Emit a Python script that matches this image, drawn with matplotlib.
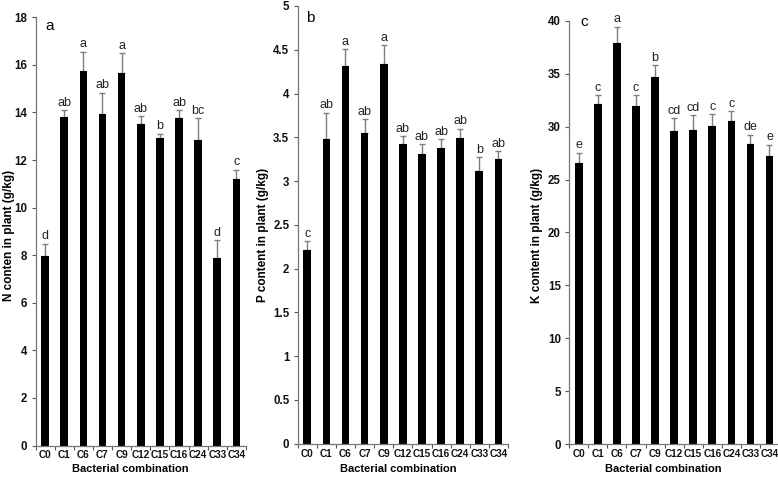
import matplotlib
matplotlib.use("Agg")
import matplotlib.pyplot as plt
import numpy as np

categories = ["C0", "C1", "C6", "C7", "C9", "C12", "C15", "C16", "C24", "C33", "C34"]

n_values = [7.95, 13.79, 15.76, 13.92, 15.65, 13.53, 12.91, 13.77, 12.83, 7.87, 11.19]
n_err_top = [8.48, 14.10, 16.56, 14.83, 16.49, 13.84, 13.11, 14.10, 13.75, 8.62, 11.59]
n_letters = ["d", "ab", "a", "ab", "a", "ab", "b", "ab", "bc", "d", "c"]

p_values = [2.21, 3.48, 4.31, 3.55, 4.34, 3.42, 3.31, 3.38, 3.49, 3.11, 3.25]
p_err_top = [2.31, 3.78, 4.51, 3.71, 4.55, 3.51, 3.42, 3.48, 3.60, 3.27, 3.34]
p_letters = ["c", "ab", "a", "ab", "a", "ab", "ab", "ab", "ab", "b", "ab"]

k_values = [26.6, 32.1, 37.85, 31.9, 34.7, 29.6, 29.7, 30.1, 30.5, 28.4, 27.2]
k_err_top = [27.55, 32.95, 39.45, 32.95, 35.8, 30.8, 31.1, 31.15, 31.45, 29.25, 28.3]
k_letters = ["e", "c", "a", "c", "b", "cd", "cd", "c", "c", "de", "e"]

W, H = 778, 479
fig = plt.figure(figsize=(W / 100, H / 100), dpi=100)

bold_font = ["Liberation Sans", "DejaVu Sans"]
reg_font = ["Liberation Sans", "DejaVu Sans"]

panels = [
    dict(vals=n_values, err=n_err_top, let=n_letters, ymax=18, step=2,
         left=35.5, right=246, bottom=445.5, top=17.3, ylx=9, xlx=130,
         ylabel="N conten in plant (g/kg)", tag="a", tagxy=(50, 26), fmt="int"),
    dict(vals=p_values, err=p_err_top, let=p_letters, ymax=5, step=0.5,
         left=297.7, right=508, bottom=443.7, top=6.0, ylx=263, xlx=398,
         ylabel="P content in plant (g/kg)", tag="b", tagxy=(310, 18), fmt="g"),
    dict(vals=k_values, err=k_err_top, let=k_letters, ymax=40, step=5,
         left=569.3, right=779.0, bottom=444.3, top=20.7, ylx=537, xlx=663,
         ylabel="K content in plant (g/kg)", tag="c", tagxy=(584, 22), fmt="int"),
]

for p in panels:
    aw = p["right"] - p["left"]
    ah = p["bottom"] - p["top"]
    ax = fig.add_axes([p["left"] / W, 1 - p["bottom"] / H, aw / W, ah / H])
    x = np.arange(len(categories))
    vals = np.array(p["vals"])
    up = np.array(p["err"]) - vals
    ax.errorbar(x, vals, yerr=[np.zeros_like(up), up], fmt="none",
                ecolor="#7f7f7f", elinewidth=1.0, capsize=2.5, capthick=1.0, zorder=1)
    ax.bar(x, vals, width=0.4, color="black", zorder=2)
    for xi, top, lab in zip(x, p["err"], p["let"]):
        ax.annotate(lab, (xi, top), xytext=(0, 1.0), textcoords="offset points",
                    ha="center", va="bottom", fontsize=9, family=reg_font, color="#222222")
    ax.set_xlim(-0.5, len(categories) - 0.5)
    ax.set_ylim(0, p["ymax"])
    yt = np.arange(0, p["ymax"] + p["step"] / 2, p["step"])
    ax.set_yticks(yt)
    if p["fmt"] == "int":
        ax.set_yticklabels([f"{int(v)}" for v in yt])
    else:
        ax.set_yticklabels([f"{v:g}" for v in yt])
    ax.set_xticks(x)
    ax.set_xticklabels(categories)
    ax.set_xticks(np.arange(-0.5, len(categories)), minor=True)
    ax.tick_params(axis="x", which="major", length=0, pad=3.5)
    ax.tick_params(axis="x", which="minor", length=3, width=0.8, color="#555555")
    ax.tick_params(axis="y", length=3, width=0.8, color="#555555", pad=3)
    for lbl in ax.get_xticklabels():
        lbl.set_family(bold_font)
        lbl.set_fontweight("bold")
        lbl.set_fontsize(7.2)
        lbl.set_color("#111111")
    for lbl in ax.get_yticklabels():
        lbl.set_family(bold_font)
        lbl.set_fontweight("bold")
        lbl.set_fontsize(8.3)
        lbl.set_color("#111111")
    ax.spines["top"].set_visible(False)
    ax.spines["right"].set_visible(False)
    for s in ("left", "bottom"):
        ax.spines[s].set_color("#777777")
        ax.spines[s].set_linewidth(0.9)
    ax.set_xlabel("Bacterial combination", family=bold_font,
                  fontweight="bold", fontsize=8)
    ax.xaxis.set_label_coords((p["xlx"] - p["left"]) / aw, -(469 - p["bottom"]) / ah)
    ax.xaxis.label.set_va("center")
    ax.set_ylabel(p["ylabel"], family=reg_font, fontweight="bold", fontsize=8.5)
    ax.yaxis.set_label_coords((p["ylx"] - p["left"]) / aw,
                              0.5 - (235 - (p["top"] + p["bottom"]) / 2) / ah)
    ax.yaxis.label.set_va("center")
    fig.text(p["tagxy"][0] / W, 1 - p["tagxy"][1] / H, p["tag"], fontsize=11,
             family=reg_font, ha="center", va="center")
    ax.set_facecolor("none")

fig.savefig("out.png", dpi=100, facecolor="white")
